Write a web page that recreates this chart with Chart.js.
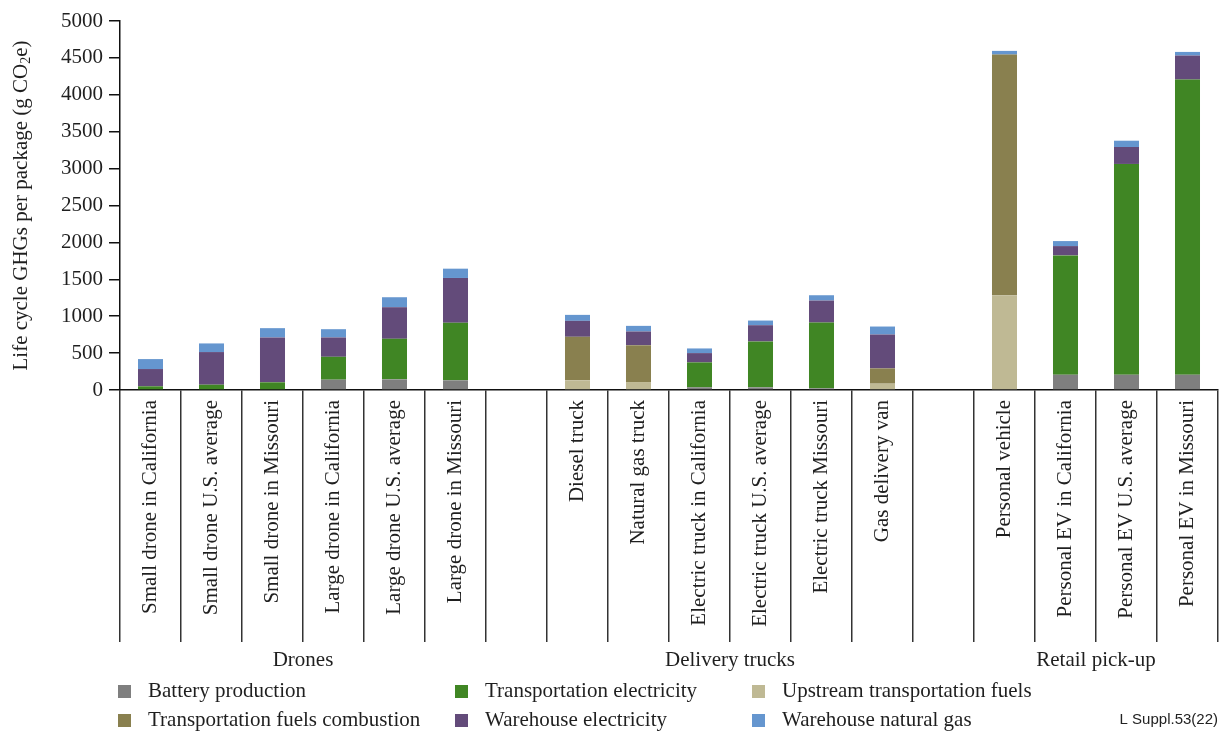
<!DOCTYPE html>
<html>
<head>
<meta charset="utf-8">
<script src="https://cdn.jsdelivr.net/npm/chart.js@4"></script>
<style>
  html, body { margin: 0; padding: 0; background: #fff; }
  #wrap { width: 1220px; height: 731px; }
</style>
</head>
<body>
<div id="wrap"><canvas id="c" width="1220" height="731"></canvas></div>
<script>
// Delivery options; empty strings are spacer slots between the groups
const categories = [
  'Small drone in California', 'Small drone U.S. average', 'Small drone in Missouri',
  'Large drone in California', 'Large drone U.S. average', 'Large drone in Missouri',
  '',
  'Diesel truck', 'Natural gas truck', 'Electric truck in California',
  'Electric truck U.S. average', 'Electric truck Missouri', 'Gas delivery van',
  '',
  'Personal vehicle', 'Personal EV in California', 'Personal EV U.S. average', 'Personal EV in Missouri'
];

// Life cycle GHGs per package (g CO2e), by source
const batteryProduction      = [0, 0, 0, 140, 144, 131, null, 0, 0, 36, 36, 23, 0, null, 0, 207, 207, 207];
const upstreamFuels          = [0, 0, 0, 0, 0, 0, null, 131, 108, 0, 0, 0, 86, null, 1284, 0, 0, 0];
const fuelsCombustion        = [0, 0, 0, 0, 0, 0, null, 590, 500, 0, 0, 0, 207, null, 3261, 0, 0, 0];
const transportElectricity   = [50, 72, 104, 310, 550, 779, null, 0, 0, 338, 622, 891, 0, null, 0, 1617, 2856, 4000];
const warehouseElectricity   = [234, 442, 608, 262, 428, 608, null, 216, 185, 126, 220, 298, 459, null, 0, 126, 230, 325];
const warehouseNaturalGas    = [135, 117, 126, 112, 135, 126, null, 81, 76, 63, 63, 72, 108, null, 50, 68, 85, 49];

// Group captions under the category axis (index ranges into categories)
const groupLabels = ['Drones', 'Delivery trucks', 'Retail pick-up'];
const groupStart  = [0, 7, 14];
const groupEnd    = [5, 12, 17];

const yTicks = [0, 500, 1000, 1500, 2000, 2500, 3000, 3500, 4000, 4500, 5000];

const SERIF = '"Liberation Serif", "Times New Roman", serif';
const INK = '#1f1f1f';

const datasets = [
  { label: 'Battery production',             data: batteryProduction,    backgroundColor: '#7f7f7f' },
  { label: 'Upstream transportation fuels',  data: upstreamFuels,        backgroundColor: '#bfb994' },
  { label: 'Transportation fuels combustion',data: fuelsCombustion,      backgroundColor: '#89804f' },
  { label: 'Transportation electricity',     data: transportElectricity, backgroundColor: '#408624' },
  { label: 'Warehouse electricity',          data: warehouseElectricity, backgroundColor: '#634b7a' },
  { label: 'Warehouse natural gas',          data: warehouseNaturalGas,  backgroundColor: '#6596cf' }
];

// Legend layout: two rows of three
const legendOrder = [0, 3, 1, 2, 4, 5];
const legendColX = [118, 455, 752];
const legendRowY = [691, 720];

const extras = {
  id: 'extras',
  afterDraw(chart) {
    const ctx = chart.ctx;
    const x = chart.scales.x;
    const area = chart.chartArea;
    ctx.save();

    // y-axis title with subscript
    ctx.translate(21, (area.top + area.bottom) / 2);
    ctx.rotate(-Math.PI / 2);
    ctx.fillStyle = INK;
    ctx.textBaseline = 'middle';
    const big = '21px ' + SERIF, small = '14px ' + SERIF;
    const p1 = 'Life cycle GHGs per package (g CO', p2 = '2', p3 = 'e)';
    ctx.font = big; const w1 = ctx.measureText(p1).width, w3 = ctx.measureText(p3).width;
    ctx.font = small; const w2 = ctx.measureText(p2).width;
    let sx = -(w1 + w2 + w3) / 2;
    ctx.font = big; ctx.textAlign = 'left';
    ctx.fillText(p1, sx, 0); sx += w1;
    ctx.font = small; ctx.fillText(p2, sx, 5); sx += w2;
    ctx.font = big; ctx.fillText(p3, sx, 0);
    ctx.restore();

    // group captions
    ctx.save();
    ctx.font = '21px ' + SERIF;
    ctx.fillStyle = INK;
    ctx.textAlign = 'center';
    ctx.textBaseline = 'middle';
    groupLabels.forEach((g, i) => {
      const cx = (x.getPixelForValue(groupStart[i]) + x.getPixelForValue(groupEnd[i])) / 2;
      ctx.fillText(g, cx, 660);
    });

    // legend
    ctx.textAlign = 'left';
    legendOrder.forEach((di, k) => {
      const col = k % 3, row = Math.floor(k / 3);
      const ds = chart.data.datasets[di];
      const lx = legendColX[col], ly = legendRowY[row];
      ctx.fillStyle = ds.backgroundColor;
      ctx.fillRect(lx, ly - 6, 13, 13);
      ctx.fillStyle = INK;
      ctx.fillText(ds.label, lx + 30, ly);
    });

    // figure reference
    ctx.font = '15px "Liberation Sans", Arial, sans-serif';
    ctx.textAlign = 'right';
    ctx.fillStyle = '#222';
    ctx.fillText('L Suppl.53(22)', 1218, 720);
    ctx.restore();
  }
};

new Chart(document.getElementById('c'), {
  type: 'bar',
  data: { labels: categories, datasets },
  options: {
    responsive: false,
    animation: false,
    layout: { padding: { top: 21, right: 2, left: 0, bottom: 0 } },
    plugins: { legend: { display: false }, tooltip: { enabled: false } },
    datasets: { bar: { barPercentage: 0.41, categoryPercentage: 1.0 } },
    scales: {
      x: {
        stacked: true,
        offset: true,
        border: { display: true, color: '#111', width: 1.5 },
        grid: {
          offset: true,
          drawOnChartArea: false,
          drawTicks: true,
          tickLength: 252,
          color: '#333',
          lineWidth: 1.5
        },
        ticks: {
          autoSkip: false,
          minRotation: 90,
          maxRotation: 90,
          padding: -242,
          color: INK,
          font: { family: SERIF, size: 21 }
        },
        afterFit(scale) { scale.height = 341; }
      },
      y: {
        stacked: true,
        min: 0,
        max: 5000,
        afterBuildTicks(scale) { scale.ticks = yTicks.map(v => ({ value: v })); },
        border: { display: true, color: '#111', width: 1.5 },
        grid: { drawOnChartArea: false, drawTicks: true, tickLength: 11, color: '#111', lineWidth: 1.5 },
        ticks: {
          padding: 6,
          color: INK,
          font: { family: SERIF, size: 21 },
          callback: (v) => String(v)
        },
        afterFit(scale) { scale.width = 120; }
      }
    }
  },
  plugins: [extras]
});
</script>
</body>
</html>
